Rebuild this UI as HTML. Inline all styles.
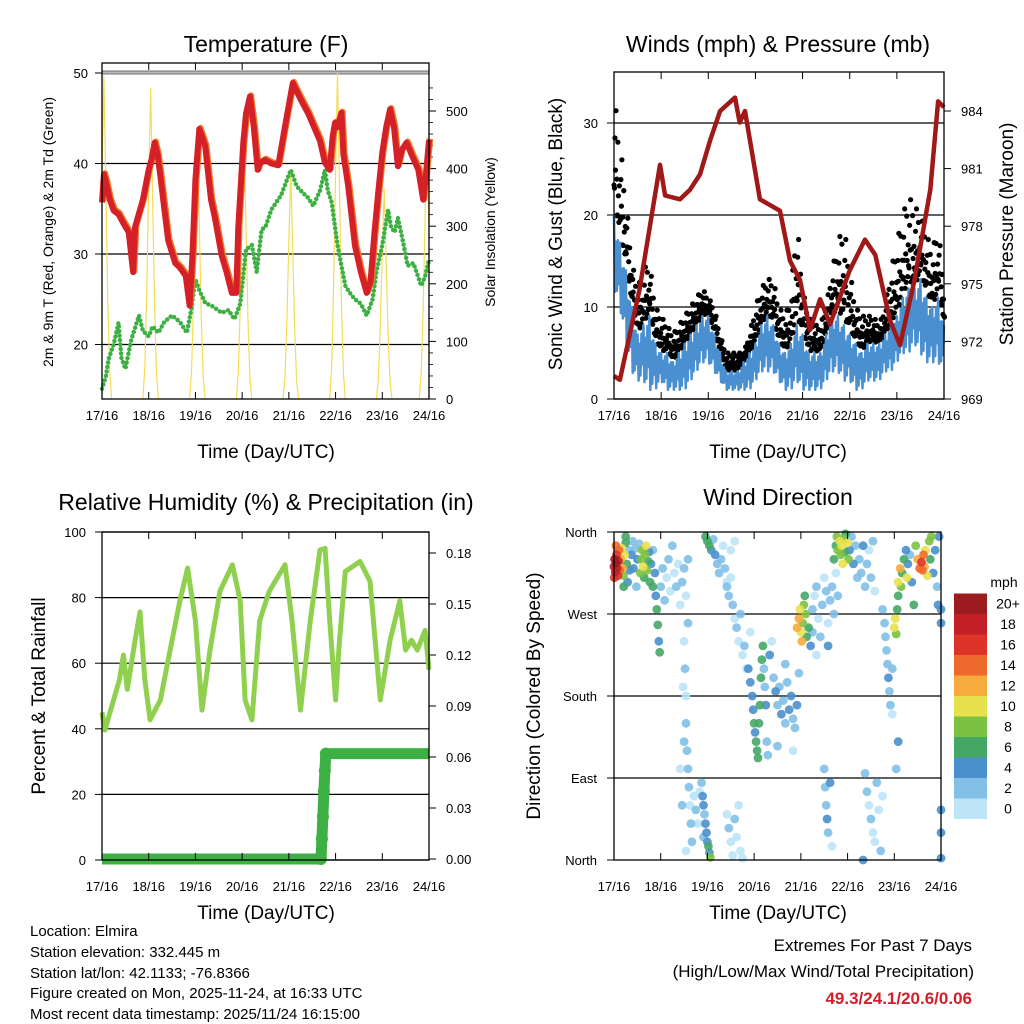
<!DOCTYPE html>
<html><head><meta charset="utf-8"><style>
body{margin:0;background:#fff}
svg{display:block;font-family:"Liberation Sans",Arial,sans-serif}
</style></head><body>
<svg id="c" width="1024" height="1024" viewBox="0 0 1024 1024" xmlns="http://www.w3.org/2000/svg">
<rect width="1024" height="1024" fill="#fff"/>
<g id="g1"></g>
<g id="g2"></g>
<g id="g3"></g>
<g id="g4"></g>
<text x="266" y="52" font-size="23" text-anchor="middle">Temperature (F)</text>
<text x="778" y="52" font-size="23" text-anchor="middle">Winds (mph) &amp; Pressure (mb)</text>
<text x="266" y="510" font-size="23" text-anchor="middle">Relative Humidity (%) &amp; Precipitation (in)</text>
<text x="778" y="505" font-size="23" text-anchor="middle">Wind Direction</text>
<text x="266" y="458" font-size="19" text-anchor="middle">Time (Day/UTC)</text>
<text x="778" y="458" font-size="19" text-anchor="middle">Time (Day/UTC)</text>
<text x="266" y="919" font-size="19" text-anchor="middle">Time (Day/UTC)</text>
<text x="778" y="919" font-size="19" text-anchor="middle">Time (Day/UTC)</text>
<text transform="translate(53,232) rotate(-90)" font-size="14" text-anchor="middle">2m &amp; 9m T (Red, Orange) &amp; 2m Td (Green)</text>
<text transform="translate(495,232) rotate(-90)" font-size="14" text-anchor="middle">Solar Insolation (Yellow)</text>
<text transform="translate(562,234) rotate(-90)" font-size="19" text-anchor="middle">Sonic Wind &amp; Gust (Blue, Black)</text>
<text transform="translate(1013,234) rotate(-90)" font-size="19" text-anchor="middle">Station Pressure (Maroon)</text>
<text transform="translate(45,696) rotate(-90)" font-size="19" text-anchor="middle">Percent &amp; Total Rainfall</text>
<text transform="translate(540,696) rotate(-90)" font-size="19" text-anchor="middle">Direction (Colored By Speed)</text>
<text x="1004" y="587" font-size="14" text-anchor="middle">mph</text>
<g font-size="15">
<text x="30" y="936">Location: Elmira</text>
<text x="30" y="957">Station elevation: 332.445 m</text>
<text x="30" y="978">Station lat/lon: 42.1133; -76.8366</text>
<text x="30" y="998">Figure created on Mon, 2025-11-24, at 16:33 UTC</text>
<text x="30" y="1019">Most recent data timestamp: 2025/11/24 16:15:00</text>
</g>
<text x="972" y="951" font-size="17" text-anchor="end">Extremes For Past 7 Days</text>
<text x="974" y="977" font-size="17" text-anchor="end">(High/Low/Max Wind/Total Precipitation)</text>
<text x="972" y="1004" font-size="17" font-weight="bold" fill="#d0202a" text-anchor="end">49.3/24.1/20.6/0.06</text>
</svg>
<script>
const dayLabels=["17/16","18/16","19/16","20/16","21/16","22/16","23/16","24/16"];
const tempT=[0,1,2,4,6,8.5,11,13.7,16,17,19,21,24,25.5,27,28.5,30,32,34,37.6,40,43,45,46.5,48,50,51,53,56,58,61.5,64,66.7,69,70,72.6,74,76,78,80,81,83.7,87,90.6,94,98,100,103,106,109.4,112,114.5,117,118.5,119.7,121,123,124,126.5,130,133,136,138,140,142,144,146,148,150,152,154,156.5,159,162.5,165,166.5,168];
const tempV=[35.7,38.8,38,36,34.8,34.4,33.4,32.4,28,33,34.5,36,39.3,40.5,42.3,41,38.6,35,31.5,29,28.5,27.6,24.3,30,38.2,43.8,43.2,41.9,36,34,29.8,28,25.7,25.7,33,42.3,45.5,47.4,44,39.3,40,40.4,40,39.8,44.1,48.9,48,46.7,45.5,43.8,42.5,40.1,39.3,43,44.5,44,45.6,41,37.5,30.9,28,25.7,27,32.4,37,41.2,44,46,44,39.7,41.5,42.3,41,39.3,36,39,42.6];
const dewT=[0,2,3.4,6,8.5,10,12,15,19,21,24,26,29,32,36,40,43.6,46,48,50,53,57,61.5,65,68,71,74,77,79.5,82,84,87,92,97,100,103,106,108.5,112,114.5,116,118,121,125,128,130,133,136,139,141,144,147,148.5,150.4,152,155,157,160,164,166,168];
const dewV=[15.1,16.5,18.4,20,22.4,18.5,17.3,20.5,23.2,21.5,20.9,22,21.3,22.5,23.2,22.5,21.3,24,27.2,26,24.6,24.2,23.5,23.8,22.8,24.5,30.5,31,28,32.7,33,34.9,36.5,39.3,37.5,36.8,36.2,35.3,37,39.3,37,35.7,31,26.5,25.5,25,24.5,23.2,25,28,31,34.9,33,32.4,34,31,28.7,29,26.5,27.5,29.4];
const solarPeakT=[1,25,49,73,97,121,145,167];
const solarPeakV=[560,540,470,455,395,566,365,455];
const solarProfile=[0,0.1,0.35,0.7,1,0.65,0.3,0.08,0];
const windT=[0,3,6,9,12,15,18,21,24,27,30,33,36,39,42,45,48,51,54,57,60,63,66,69,72,75,78,81,84,87,90,93,96,99,102,105,108,111,114,117,120,123,126,129,132,135,138,141,144,147,150,153,156,159,162,165,168];
const windLo=[12,10,6,3,2,2,1,1,2,1,1,1,1,2,3,4,4,3,2,1,1,1,1,1,2,3,3,3,2,1,1,2,1,1,1,1,2,3,3,2,2,1,1,2,2,2,3,3,4,5,5,6,5,4,4,4,3];
const windHi=[20,17,14,10,7,8,9,6,5,5,4,5,6,7,8,9,9,7,5,3,3,3,4,5,6,8,9,8,6,5,6,8,7,5,5,5,7,9,9,8,7,6,5,6,6,6,7,8,9,11,12,12,13,11,10,11,8];
const gustV=[33,28,22,15,12,14,15,10,9,8,7,8,9,10,11,12,11,10,7,5,5,5,5,7,10,12,13,13,10,9,11,20,12,9,8,8,10,14,17,19,14,10,9,9,9,8,10,14,17,20,22,21,20,18,16,19,12];
const presT=[0,3,13,23.4,26,33.6,38.7,43.8,49,54,61.6,64,66.7,74.3,79.4,84.5,89.6,94.7,99.8,104.9,110,120,127.8,133,140.5,145.6,153,161,165,168];
const presV=[970.2,970,974.7,981.2,979.6,979.4,979.9,980.7,982.5,984,984.7,983.4,984,979.4,979.1,978.8,976.2,975.2,972.6,974.2,972.9,975.7,977.3,976.5,973.1,971.8,975.2,979.9,984.5,984.2];
const rhT=[0,1.5,9,11,13,17,19.5,22,24.7,30,35,40,44,48,51.4,55.5,60.6,67,71,73.5,77,81,86,94,97.6,102,107,112,114.6,117,120,122,125,132.6,137.7,143,148,153,156,159,162,166,168];
const rhV=[45,39.6,55,62.5,52,67,75.6,55,42.7,48.8,64,79,89,73,45.7,64,82,90,79,48.8,42.7,73,82,90,73,45.7,73,94.5,95,73,48.8,67,88,91,85,48.8,67,79,64,67,64,70,58];
const precT=[0,112.5,113,113.5,114,114.5,115,168];
const precV=[0,0,0.012,0.025,0.04,0.052,0.062,0.062];
const dirObs=[[0,322,19],[0.3,330,20],[0.6,316,18],[1,326,20],[1.3,335,17],[1.6,320,19],[2,312,16],[2.3,328,18],[2.6,340,15],[3,318,14],[0.2,310,16],[1,345,15],
[3.5,330,12],[4,342,11],[4.5,320,13],[5,312,9],[5.5,335,10],[6,348,7],[6.5,325,6],[7,305,5],[7.5,340,3],[8,318,4],[6,355,6],[5,300,7],
[9,335,4],[9.5,350,3],[10,320,5],[11,342,2],[11.5,300,2],[12,330,4],[13,347,3],[13.5,315,9],[14,330,8],[14.5,340,9],[15,322,10],[15.5,310,7],[16,335,8],[16.5,345,10],[17,318,9],[17.5,328,6],[18,338,5],[18.5,305,7],
[19,325,4],[20,340,3],[20,300,6],[21,315,4],[21.5,290,5],[22,275,6],[22.5,258,6],[23,240,5],[23.5,228,6],[24,300,2],[25,320,3],[26,285,2],[27,310,1],[28,330,2],[29,295,1],[30,345,2],[31,315,1],[32,300,2],[33,325,1],[34,280,1],[35,305,2],[36,320,2],[37,290,1],[38,260,2],[38,330,3],
[36,240,1],[36.5,210,2],[37,180,1],[37,150,2],[37.5,120,3],[38,100,2],[38.5,80,3],[39,60,1],[39.5,40,2],[40,20,3],[36,130,2],[35,60,3],[37,10,1],[34,100,0],[35.5,190,1],
[45,85,2],[45.5,70,4],[46,60,4],[46.5,50,3],[47,40,4],[47.5,30,5],[48,20,4],[48.5,15,6],[49,8,5],[49.5,3,8],[44,75,1],[46,25,2],[43,40,1],[42,55,2],[41,70,1],
[47,355,6],[48,350,7],[49,345,6],[50,340,4],[51,352,3],[52,335,4],[53,325,3],[54,315,2],[55,330,2],[56,345,1],[57,320,2],[58,300,3],
[58,305,1],[59,290,2],[60,310,1],[61,280,2],[62,265,1],[63,255,2],[64,240,1],[65,270,2],[66,225,1],[67,235,2],[68,210,1],[60,340,0],[62,350,1],
[58,50,1],[59,35,2],[60,20,1],[61,5,0],[62,45,2],[63,25,1],[64,60,0],[65,10,1],[66,2,0],
[69,210,4],[70,195,4],[71,180,5],[71.5,165,4],[72,150,6],[72.5,140,5],[73,130,7],[73.5,120,6],[74,112,7],[74.5,150,6],[75,170,7],[75.5,200,7],[76,220,6],[76.5,235,6],[77,210,3],[77.5,190,3],[78,170,4],[78.5,130,2],[79,115,3],[80,225,4],[81,240,0],[70,250,1],
[82,200,3],[83,185,4],[84,170,3],[85,190,2],[86,160,4],[87,175,3],[88,150,2],[89,195,3],[90,165,4],[91,180,4],[92,155,3],[93,145,2],[94,170,5],[95,205,3],[84,125,2],[88,215,2],[92,120,1],
[94,255,12],[95,265,13],[95.5,275,11],[96,250,10],[96.5,240,12],[97,260,9],[97.5,280,8],[98,290,7],[98.5,270,9],[99,245,7],[100,255,6],[101,235,4],[102,250,3],
[102,275,2],[103,290,1],[104,300,2],[105,265,1],[106,245,2],[107,280,2],[108,310,1],[109,295,2],[110,260,1],[111,285,3],[112,300,2],[113,270,2],[114,315,1],[115,290,2],[104,225,1],[110,235,4],
[113,330,6],[114,345,7],[114.5,355,9],[115,340,8],[116,350,10],[116.5,335,9],[117,345,11],[117.5,325,10],[118,352,8],[118.5,338,6],[119,358,7],[120,348,10],[120.5,330,9],[121,340,4],[122,355,3],[123,325,4],[124,345,2],[125,310,2],
[126,330,3],[127,315,2],[128,345,4],[129,300,2],[130,325,3],[131,340,1],[132,310,2],[133,350,2],[134,295,1],
[108,100,2],[108.5,80,3],[109,60,2],[109.5,45,4],[110,30,2],[111,85,4],[112,15,1],
[129,95,2],[130,75,2],[131,60,1],[132,45,2],[133,30,0],[134,20,1],[135,85,2],[136,55,0],[137,10,2],[138,70,1],[128,0,4],
[138,275,2],[139,260,3],[139.5,245,2],[140,230,2],[140.5,215,3],[141,200,4],[141.5,185,3],[142,170,2],[143,160,1],[144,255,10],[144.5,265,10],[145,248,9],[145.5,275,7],[146,290,6],[143,210,2],[146,130,4],[145,100,2],
[146,305,10],[147,320,12],[147.5,300,8],[148,315,6],[149,330,7],[150,340,5],[150.5,310,10],[151,325,4],[152,335,3],[153,305,5],[154,280,6],[155,345,9],[156,330,12],[157,320,14],[158,327,16],[158.5,318,15],[159,335,14],[159.5,322,12],[160,340,10],[161,312,10],[162,350,8],[162.5,330,7],[163,355,9],[164,315,5],[165,340,4],[166,300,3],[166.5,280,4],[167,355,5],
[168,55,4],[168,30,4],[168,2,4],[168,260,4],[168,275,4]];
const speedLabels=["0","2","4","6","8","10","12","14","16","18","20+"];
const speedColors=["#bde4f7","#82c0e8","#4a90cc","#45a766","#7cc242","#e8e14e","#f7ab3c","#ee6a2c","#dd3328","#c21f27","#9c1b1f"];
const tempTicks=[20,30,40,50], solarTicks=[0,100,200,300,400,500];
const windTicks=[0,10,20,30], presTicks=[969,972,975,978,981,984];
const rhTicks=[0,20,40,60,80,100], precTicks=[0,0.03,0.06,0.09,0.12,0.15,0.18];
const dirTicks=[0,90,180,270,360], dirLabels=["North","East","South","West","North"];

const NS="http://www.w3.org/2000/svg";
function mk(parent,tag,attrs,txt){const e=document.createElementNS(NS,tag);for(const k in attrs)e.setAttribute(k,attrs[k]);if(txt!==undefined)e.textContent=txt;parent.appendChild(e);return e;}
const g1=document.getElementById('g1'),g2=document.getElementById('g2'),g3=document.getElementById('g3'),g4=document.getElementById('g4');
const P1={l:102,r:429,t:63,b:399}, P2={l:614,r:944,t:72,b:399}, P3={l:102,r:429,t:532,b:860}, P4={l:614,r:941,t:532,b:860};
const xs=(P,t)=>P.l+t*(P.r-P.l)/168;
const yT=v=>73+(50-v)*9.05, yS=s=>399-s*0.576;
const yW=v=>399-v*9.2, yP=p=>399-(p-969)*19.2;
const yRH=v=>860-v*3.28, yPr=p=>859-p*1700;
const yD=d=>860-d*328/360;
function line(g,x1,y1,x2,y2,st,w){return mk(g,'line',{x1,y1,x2,y2,stroke:st,'stroke-width':w});}
function pathFrom(xsArr,ysArr){let d='';for(let i=0;i<xsArr.length;i++)d+=(i?'L':'M')+xsArr[i].toFixed(1)+','+ysArr[i].toFixed(1);return d;}
function xAxis(g,P,ly){
  for(let i=0;i<dayLabels.length;i++){const x=xs(P,i*24);
    const tk=line(g,x,P.b,x,P.b-7,'#000',1);
    
    
    const tk2=line(g,x,P.t,x,P.t+7,'#000',1);
    
    
    const t=mk(g,'text',{x:x,y:ly,'font-size':13,'text-anchor':'middle'},dayLabels[i]);
    
    
  }
}
function box(g,P){const r=mk(g,'rect',{x:P.l,y:P.t,width:P.r-P.l,height:P.b-P.t,fill:'none',stroke:'#000','stroke-width':1.3});
  
  }
function yTicks(g,P,vals,fy,side,lx,fmt,grid){
  for(const v of vals){const y=fy(v);
    if(grid){const gl=line(g,P.l,y,P.r,y,'#000',1.2);
      
      }
    const x0=side==='l'?P.l:P.r;
    const tk=line(g,x0,y,side==='l'?x0-7:x0+7,y,'#000',1);
    
    
    const t=mk(g,'text',{x:lx,y:y+5,'font-size':13,'text-anchor':side==='l'?'end':'start'},fmt(v));
    
    
  }
}
// ---- Panel 1
yTicks(g1,P1,tempTicks,yT,'l',88,v=>v,true);
{const gl=mk(g1,'rect',{x:P1.l,y:yT(50)-2,width:P1.r-P1.l,height:3,fill:'#bbb',stroke:'#555','stroke-width':0.8});
 
 }
yTicks(g1,P1,solarTicks,yS,'r',446,v=>v,false);
for(let s=20;s<560;s+=20){if(s%100===0)continue;const m=line(g1,P1.r,yS(s),P1.r+4,yS(s),'#000',0.8);
  
  }
{let d='';for(let i=0;i<solarPeakT.length;i++){
  const xa=[],ya=[];
  for(let j=0;j<solarProfile.length;j++){const t=solarPeakT[i]+(j-4);if(t<0||t>168)continue;
    xa.push(xs(P1,t));ya.push(yS(solarPeakV[i]*solarProfile[j]));}
  d+=pathFrom(xa,ya);}
 const sp=mk(g1,'path',{d:d,fill:'none',stroke:'#f6dc55','stroke-width':1.2});
 
 }
{const dp=mk(g1,'path',{d:pathFrom(dewT.map(t=>xs(P1,t)),dewV.map(yT)),fill:'none',stroke:'#3cb043','stroke-width':4.5,'stroke-dasharray':'0 4.5','stroke-linecap':'round','stroke-linejoin':'round'});
 
 }
{const o=mk(g1,'path',{d:pathFrom(tempT.map(t=>xs(P1,t)+1.2),tempV.map(v=>yT(v)-1.2)),fill:'none',stroke:'#f07a2a','stroke-width':6,'stroke-linejoin':'round'});
 
 
 const r=mk(g1,'path',{d:pathFrom(tempT.map(t=>xs(P1,t)),tempV.map(yT)),fill:'none',stroke:'#d42026','stroke-width':6,'stroke-linejoin':'round'});
 
 }
box(g1,P1);xAxis(g1,P1,420);
// ---- Panel 2
yTicks(g2,P2,windTicks,yW,'l',598,v=>v,true);
yTicks(g2,P2,presTicks,yP,'r',961,v=>v,false);
{const gustPat=[0.25,0.7,1,0.45,0.85,0.15];
 const bluePat=[1,0,0.75,0.1,0.9,0.3];
 const gg=mk(g2,'g',{fill:'#000'});
 
 
 const xb=[],yb=[];
 for(let i=0;i<windT.length;i++){
   const j=Math.min(i+1,windT.length-1);
   for(let k=0;k<6;k++){
     const t=windT[i]+k*0.5; if(t>168)break;
     const f=k/6;
     const lo=windLo[i]+(windLo[j]-windLo[i])*f, hi=windHi[i]+(windHi[j]-windHi[i])*f, gu=gustV[i]+(gustV[j]-gustV[i])*f;
     const c=mk(gg,'circle',{cx:xs(P2,t).toFixed(1),cy:yW(hi+(gu-hi)*gustPat[k]).toFixed(1),r:2.6});
     
     
     const c2=mk(gg,'circle',{cx:xs(P2,t+0.25).toFixed(1),cy:yW(hi+(gu-hi)*gustPat[(k+3)%6]*0.5).toFixed(1),r:2.6});
     
     
     xb.push(xs(P2,t));yb.push(yW(lo+(hi-lo)*bluePat[k]));
   }}
 const wb=mk(g2,'path',{d:pathFrom(xb,yb),fill:'none',stroke:'#4a90d0','stroke-width':2.5,'stroke-linejoin':'round'});
 
 }
{const pp=mk(g2,'path',{d:pathFrom(presT.map(t=>xs(P2,t)),presV.map(yP)),fill:'none',stroke:'#a01818','stroke-width':4.5,'stroke-linejoin':'round'});
 
 }
box(g2,P2);xAxis(g2,P2,420);
// ---- Panel 3
yTicks(g3,P3,rhTicks,yRH,'l',86,v=>v,true);
yTicks(g3,P3,precTicks,yPr,'r',446,v=>v.toFixed(2),false);
{const rp=mk(g3,'path',{d:pathFrom(rhT.map(t=>xs(P3,t)),rhV.map(yRH)),fill:'none',stroke:'#8fd14f','stroke-width':5,'stroke-linejoin':'round'});
 
 
 const pp=mk(g3,'path',{d:pathFrom(precT.map(t=>xs(P3,t)),precV.map(yPr)),fill:'none',stroke:'#3cb043','stroke-width':11,'stroke-linejoin':'round'});
 
 
 for(let i=1;i<precT.length-1;i++){const c=mk(g3,'circle',{cx:xs(P3,precT[i]),cy:yPr(precV[i]),r:6,fill:'#3cb043'});
   
   }}
box(g3,P3);xAxis(g3,P3,891);
// ---- Panel 4
for(let i=0;i<dirTicks.length;i++){const y=yD(dirTicks[i]);
  if(i>0&&i<4){const gl=line(g4,P4.l,y,P4.r,y,'#000',1.2);
    
    }
  const tk=line(g4,P4.l,y,P4.l-7,y,'#000',1);
  
  
  const t=mk(g4,'text',{x:597,y:y+5,'font-size':13,'text-anchor':'end'},dirLabels[i]);
  
  }
const sorted=dirObs.slice().sort((a,b)=>a[2]-b[2]);
for(const o of sorted){const bin=Math.min(10,Math.floor(o[2]/2));
  const c=mk(g4,'circle',{cx:xs(P4,o[0]).toFixed(1),cy:yD(o[1]).toFixed(1),r:4.4,fill:speedColors[bin],'fill-opacity':0.9});
  
  }
box(g4,P4);xAxis(g4,P4,891);
for(let i=0;i<speedColors.length;i++){const y=819-(i+1)*20.5;
  const r=mk(g4,'rect',{x:954,y:y,width:33,height:20.5,fill:speedColors[i]});
  
  
  const t=mk(g4,'text',{x:1008,y:y+15,'font-size':14,'text-anchor':'middle'},speedLabels[i]);
  
  }
</script>
</body></html>
